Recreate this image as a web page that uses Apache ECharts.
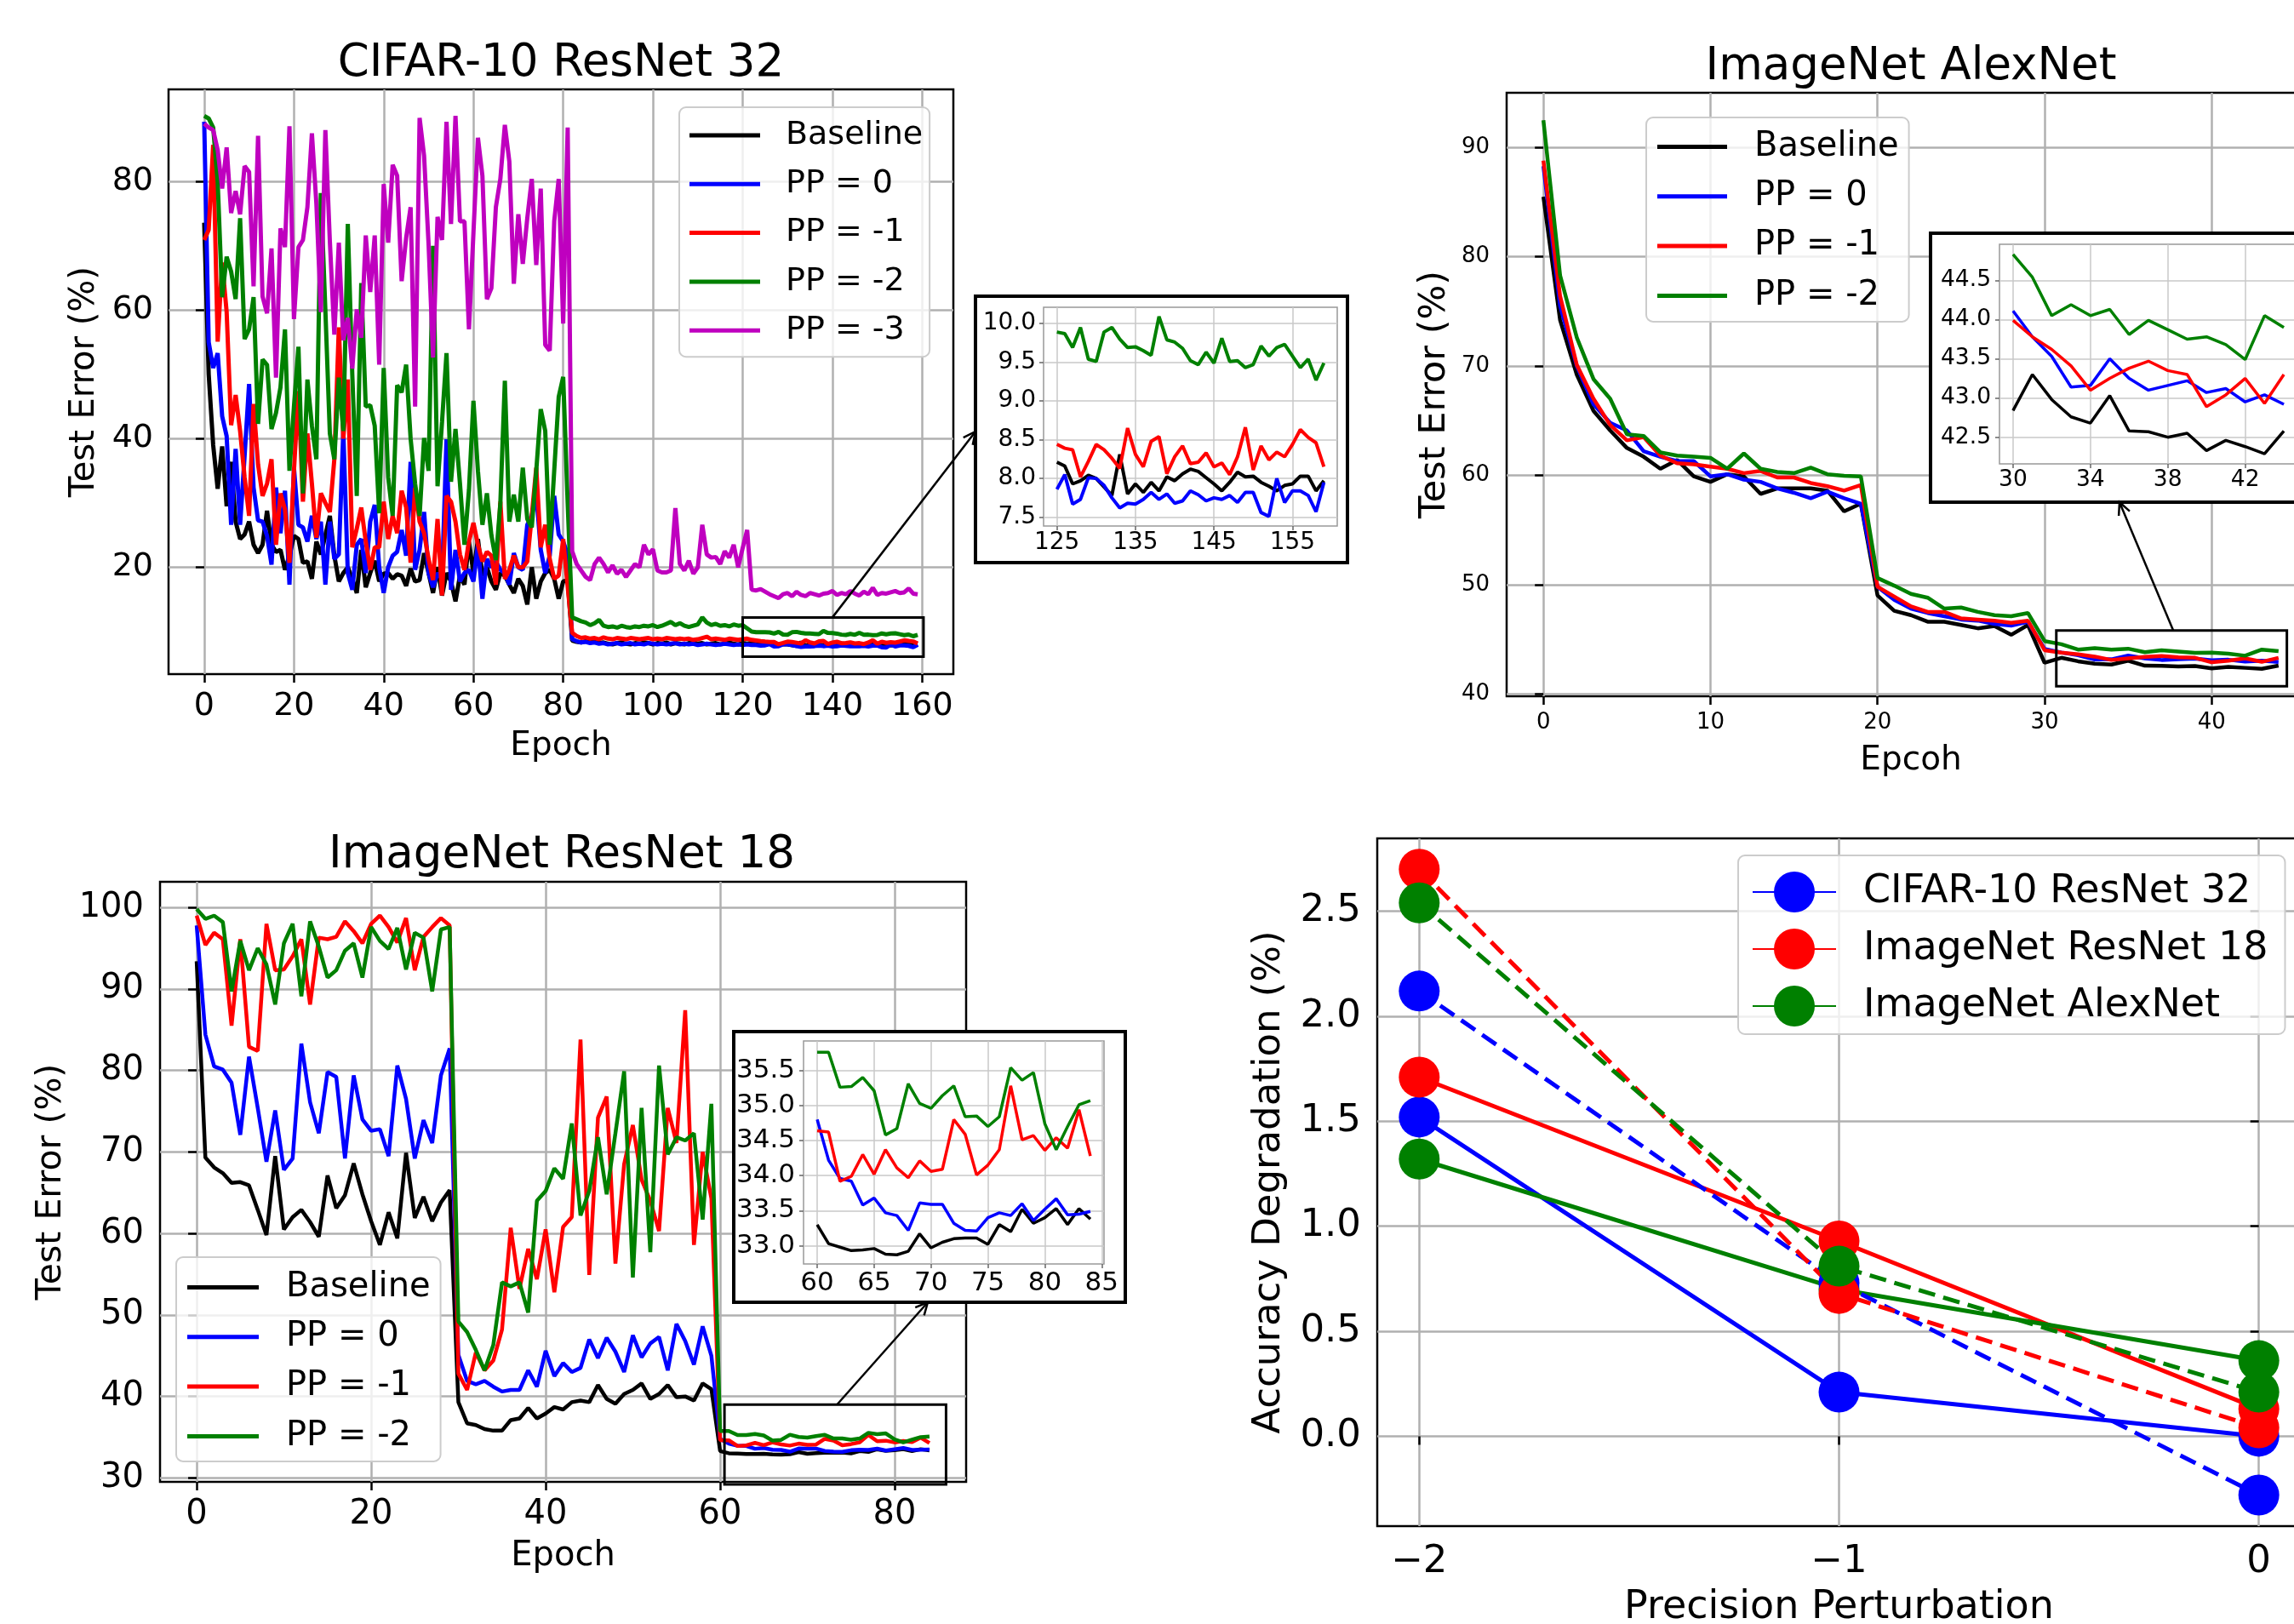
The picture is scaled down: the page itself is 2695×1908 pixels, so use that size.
<!DOCTYPE html>
<html><head><meta charset="utf-8">
<script src="https://cdn.jsdelivr.net/npm/echarts@6/dist/echarts.min.js"></script>
<style>html,body{margin:0;padding:0;background:#fff;overflow:hidden}#c{width:2800px;height:1908px}</style>
</head><body><div id="c"></div>
<script>
// ---------------- DATA ----------------
// CIFAR-10 ResNet 32, epochs 0..159 (test error %)
const cifarBaseline = [
73.6,50,39,32.2,38.8,29.5,36.4,27.1,24.4,25.1,
27.1,23.5,22.2,23.5,28.8,23.5,22.4,22.7,19.6,21.8,
24.9,24.4,20.7,20.9,18.2,24.0,22,25,28.0,21.8,
17.8,19.1,20,18.2,16.0,22.7,16.9,19.1,21,17.8,
19.0,19.1,18.2,18.9,18.7,17.1,19.8,17.8,18.0,22.2,
19.1,16.0,20.0,15.6,19.1,17.8,14.7,18.7,17.3,24.0,
19.1,24.4,18.7,20.0,17.8,16.5,19.1,18.7,17.3,16.0,
18.2,17.1,14.2,20.0,15.1,17.8,19.1,19.6,18.2,15.1,
17.8,18.0,8.6,8.4,8.3,8.5,8.3,8.4,8.2,8.3,
8.1,8.0,8.2,8.3,8.1,8.0,8.2,8.1,8.3,8.2,
8.0,8.2,8.1,8.3,8.0,8.2,8.1,8.0,8.2,8.3,
8.1,8.2,8.0,8.1,8.2,8.0,8.1,8.3,8.1,8.0,
8.2,8.1,8.2,8.2,8.1,8.21,8.16,7.93,7.97,8.04,
8.00,7.89,7.78,8.31,7.80,7.93,7.82,7.95,7.84,8.02,
7.97,8.06,8.12,8.09,8.01,7.93,7.84,7.95,8.08,8.02,
8.03,7.95,7.90,7.84,7.91,7.93,8.03,8.03,7.84,7.97];
const cifarPP0 = [
89.3,55,51,53.3,43.5,40.4,26.6,38.4,26.6,37.3,
48.5,32.4,27.3,27.1,24.9,20.4,32.4,25.3,31.9,17.3,
35.5,26.6,26.2,24.0,28.0,24.4,27.1,17.3,27.1,21.3,
22,41.2,19.1,16.5,23.5,24.4,19.1,27.1,29.7,20.0,
16.0,20.0,21.8,22.4,25.8,21.8,36.4,19.6,22.7,28.6,
19.1,16.9,19.1,18.2,39.9,16.5,22.7,17.8,19.1,19.6,
17.8,23.5,15.1,21.3,20.0,20.9,19.6,19.1,17.3,22.2,
20.0,19.6,26.6,28.0,31.5,22.7,19.1,21.8,31.1,25.1,
24.0,22.0,8.8,8.5,8.3,8.4,8.2,8.3,8.1,8.2,
8.0,8.1,8.2,8.0,8.1,8.2,8.0,8.1,8.0,8.2,
8.1,8.0,8.1,8.0,8.1,8.2,8.0,8.1,8.0,8.1,
7.9,8.0,8.1,8.0,7.9,8.0,8.1,8.0,7.9,8.0,
7.9,8.0,7.9,7.9,7.8,7.86,8.05,7.67,7.73,8.01,
8.00,7.91,7.75,7.62,7.68,7.67,7.73,7.82,7.73,7.80,
7.68,7.71,7.84,7.79,7.71,7.75,7.73,7.78,7.69,7.82,
7.82,7.56,7.51,8.00,7.69,7.84,7.84,7.78,7.57,7.95];
const cifarPPm1 = [
70.9,72.5,85.7,55.1,67.4,59.7,42.1,46.8,41.2,34,
28.0,45.4,36,31.1,33,36.8,23.5,31.5,29,20.7,
35,47.4,30.2,40.8,33,24.6,31.5,30,28.6,36.8,
57.3,40,49.2,23.1,26,29.3,24,19.6,23.1,23.1,
30.2,24.4,28.0,25.3,31.9,29.3,20.7,32.4,27.1,25.3,
21.3,18.0,27.5,15.6,31.1,30.2,27.1,22,19.6,24,
26.9,23.5,20.9,22.4,21.8,17.3,30.2,18.2,19.6,21.8,
20.0,20.0,20.9,28.0,35.5,23.1,26.6,21.3,18.2,18.7,
24.4,17,9.8,9.3,9.0,9.1,8.9,9.0,8.8,9.1,
8.9,8.8,9.0,8.9,8.8,9.0,8.9,8.8,8.9,9.0,
8.8,8.9,8.8,9.0,8.9,8.8,8.9,8.8,8.9,8.7,
8.8,9.0,9.2,8.8,8.9,8.8,8.7,8.9,8.8,8.7,
8.8,8.9,8.7,8.6,8.5,8.44,8.39,8.37,8.02,8.22,
8.44,8.37,8.26,8.13,8.65,8.31,8.15,8.48,8.54,8.06,
8.28,8.42,8.19,8.21,8.33,8.15,8.20,8.05,8.28,8.66,
8.11,8.42,8.24,8.34,8.28,8.44,8.63,8.53,8.46,8.15];
const cifarPPm2 = [
90.2,89.8,88.4,80,62,68.3,66,61.7,74.3,55.5,
57,62,42.3,52.3,51.5,41.5,44,48,57,35,
45,54.3,31.5,49.2,42,36.8,78.2,60,40.8,36.8,
49.5,41.2,73.4,50,31.1,64.2,45,45.2,42,28.4,
51,34,28,48.3,47.2,51.5,40,33,28,40.1,
35,70,32.6,42.6,53.3,33.3,41.5,33,23.5,32,
45.9,35,26.6,31.5,25,21.1,30,49,27.1,31.3,
27.1,35.5,27.5,26.2,35,44.6,41.2,23.5,35,46.5,
49.6,30,12.2,11.9,11.6,11.4,11.0,11.3,11.8,10.9,
10.7,10.8,10.6,10.9,10.7,10.6,10.8,10.7,10.9,10.8,
11.0,10.7,10.9,11.2,11.5,11.0,11.3,10.9,10.7,10.9,
11.1,12.2,11.4,11.0,11.2,10.9,11.0,10.8,11.1,10.9,
11.0,10.5,10.0,9.9,9.9,9.89,9.87,9.69,9.95,9.54,
9.51,9.89,9.95,9.80,9.69,9.70,9.65,9.59,10.09,9.79,
9.76,9.68,9.52,9.47,9.63,9.49,9.81,9.51,9.52,9.43,
9.47,9.71,9.58,9.69,9.73,9.58,9.43,9.54,9.27,9.49];
const cifarPPm3 = [
89.0,88.4,88,84.9,78.9,85.3,75.1,78.5,74.9,82.4,
81.5,63.7,87.1,62.1,59.5,69.6,49.5,72.7,69.8,88.6,
58.6,69.8,70.9,76.0,87.5,76.5,59.7,88.0,70.7,56.2,
70.5,55.3,58.8,50.9,60.1,55.7,71.6,62.8,71.6,51.5,
79.6,70.5,82.6,80.9,64.5,71.2,76.0,45,89.9,84.0,
70.3,52.6,74.5,70.9,89.3,73.4,90.2,73.8,73.8,57.0,
72,86.8,80.9,61.7,63.4,76.0,80.4,88.8,83.1,64.1,
74.9,67.2,74.3,80.4,67.0,78.9,54.6,53.7,73.8,80.4,
57.9,88.4,22.5,20.5,19.5,18.5,18.0,20.5,21.5,20.5,
19.2,20.3,19.0,19.6,18.5,19.5,20.5,20.0,23.5,22.0,
22.8,19.5,19.2,19.2,19.5,29.2,20.5,19.5,21.0,19.0,
20.0,26.6,22.0,21.5,21.6,20.5,22.5,21.5,23.5,20.0,
23.0,25.8,16.5,16.4,16.6,16.2,15.8,15.5,15.2,15.8,
16.0,15.5,16.2,15.7,15.5,16.0,15.8,15.6,15.9,16.0,
16.3,15.7,16.0,15.8,16.3,15.9,15.6,16.2,15.8,16.8,
15.7,16.0,15.9,16.1,16.3,16.0,16.1,16.7,15.9,15.8];

// ImageNet AlexNet, epochs 0..44
const alexBaseline = [85.5,74.2,69.2,65.9,64.1,62.5,61.7,60.6,61.4,59.9,
59.4,60.1,59.9,58.3,58.8,58.8,58.8,58.6,56.7,57.4,
49.0,47.6,47.2,46.6,46.6,46.3,46.0,46.2,45.4,46.3,
42.84,43.30,42.98,42.76,42.68,43.03,42.58,42.57,42.50,42.55,
42.33,42.46,42.38,42.29,42.58];
const alexPP0 = [88.3,75.5,70,66.5,64.8,64.1,62.2,61.7,61.3,61.3,
59.9,60.1,59.6,59.4,58.8,58.4,57.9,58.5,57.9,57.4,
49.8,48.6,47.8,47.4,47.1,46.8,46.7,46.4,46.25,46.6,
44.11,43.78,43.53,43.14,43.16,43.50,43.25,43.10,43.16,43.22,
43.07,43.12,42.95,43.04,42.92];
const alexPPm1 = [88.8,76.4,70.1,67.0,64.6,63.2,63.5,61.8,61.1,61.0,
60.8,60.6,60.2,60.4,59.8,59.8,59.3,59.0,58.6,59.1,
49.8,48.9,48.0,47.5,47.5,46.9,46.8,46.7,46.5,46.7,
43.99,43.78,43.62,43.41,43.10,43.25,43.38,43.47,43.35,43.30,
42.89,43.04,43.25,42.93,43.30];
const alexPPm2 = [92.5,78.3,72.6,68.8,67.0,63.75,63.6,62.1,61.8,61.7,
61.6,60.6,62.0,60.6,60.3,60.2,60.7,60.1,59.95,59.9,
50.6,49.9,49.15,48.8,47.8,47.9,47.5,47.2,47.1,47.4,
44.83,44.54,44.05,44.19,44.05,44.13,43.81,43.99,43.87,43.75,
43.78,43.68,43.49,44.05,43.90];

// ImageNet ResNet 18, epochs 0..84
const r18Baseline = [93.4,69.3,68.1,67.4,66.2,66.3,65.9,62.9,59.8,69.5,
60.5,62.0,62.9,61.4,59.6,67.1,63.1,64.7,68.6,64.8,
61.5,58.6,62.6,59.4,69.9,61.9,64.5,61.5,63.8,65.3,
39.3,36.7,36.5,36.0,35.8,35.8,37.1,37.3,38.6,37.3,
37.9,38.7,38.4,39.3,39.5,39.3,41.4,39.7,39.1,40.3,
40.8,41.6,39.7,40.3,41.4,39.9,40.0,39.5,41.6,40.9,
33.30,33.03,32.98,32.93,32.94,32.96,32.88,32.87,32.92,33.17,
32.97,33.05,33.10,33.11,33.11,33.02,33.30,33.20,33.52,33.32,
33.40,33.53,33.30,33.53,33.38];
const r18PP0 = [97.8,84.4,80.5,80.1,78.5,72.1,81.7,75.4,68.8,75.1,
67.8,69.2,83.3,76.1,72.3,79.8,79.2,69.2,79.4,74.0,
72.6,72.8,69.5,80.6,76.5,69.2,73.9,71.1,79.4,82.7,
45.1,41.9,41.5,41.9,41.2,40.6,40.8,40.8,43.2,41.2,
45.6,42.5,44.1,43.0,43.5,47.0,44.7,47.2,45.5,43.0,
47.5,44.8,46.5,47.3,43.2,48.9,46.8,43.9,48.6,45.0,
34.80,34.22,33.96,33.92,33.58,33.68,33.47,33.43,33.22,33.61,
33.59,33.59,33.32,33.22,33.21,33.40,33.47,33.43,33.60,33.36,
33.52,33.67,33.44,33.45,33.49];
const r18PPm1 = [99.0,95.4,96.9,96.1,85.5,96.1,82.9,82.4,98.0,92.3,
92.4,94.0,96.1,88.1,96.3,96.1,96.4,98.3,97.1,95.6,
98.0,99.0,97.6,95.7,98.7,92.3,96.4,97.6,98.7,97.8,
42.8,40.8,45.4,43.2,44.4,48.2,60.7,53.2,58.1,54.4,
60.5,52.8,60.8,62.0,83.8,54.9,74.2,76.8,56.3,68.5,
73.3,66.6,64.0,60.3,75.4,71.1,87.4,58.6,70.0,64.3,
34.64,34.62,33.92,33.99,34.30,34.02,34.37,34.11,33.97,34.21,
34.06,34.09,34.80,34.59,34.01,34.15,34.37,35.28,34.51,34.57,
34.36,34.54,34.39,34.94,34.28];
const r18PPm2 = [99.8,98.6,99.0,98.2,89.7,95.9,92.3,95.0,93.0,88.1,
95.6,98.0,89.1,98.3,95.2,91.4,92.3,94.7,95.6,91.4,
97.6,95.9,94.9,97.5,92.4,96.9,96.3,89.7,97.3,97.6,
49.2,47.9,45.7,43.2,46.3,54.0,53.5,54.0,50.3,64.0,
65.2,68.0,66.7,73.5,62.2,65.2,71.8,64.8,72.3,79.9,
54.6,75.4,57.7,80.6,69.7,71.8,71.4,72.3,61.7,75.9,
35.76,35.76,35.26,35.27,35.40,35.21,34.58,34.67,35.31,35.03,
34.96,35.14,35.28,34.84,34.85,34.70,34.84,35.54,35.36,35.47,
34.74,34.37,34.70,35.01,35.07];

// Accuracy degradation vs precision perturbation
const ppX = [-2, -1, 0];
const degCifarSolid = [1.52, 0.21, 0.00];
const degCifarDashed = [2.12, 0.73, -0.28];
const degR18Solid = [1.71, 0.93, 0.13];
const degR18Dashed = [2.70, 0.68, 0.04];
const degAlexSolid = [1.32, 0.70, 0.36];
const degAlexDashed = [2.54, 0.81, 0.21];

// Tick values
const x0Ticks = [0,20,40,60,80,100,120,140,160], y0Ticks = [20,40,60,80];
const x1Ticks = [125,135,145,155], y1Ticks = [7.5,8,8.5,9,9.5,10];
const x2Ticks = [0,10,20,30,40], y2Ticks = [40,50,60,70,80,90];
const x3Ticks = [30,34,38,42], y3Ticks = [42.5,43,43.5,44,44.5];
const x4Ticks = [0,20,40,60,80], y4Ticks = [30,40,50,60,70,80,90,100];
const x5Ticks = [60,65,70,75,80,85], y5Ticks = [33,33.5,34,34.5,35,35.5];
const x6Ticks = [-2,-1,0], y6Ticks = [0,0.5,1,1.5,2,2.5];

const ppNames = ['Baseline','PP = 0','PP = -1','PP = -2','PP = -3'];
const degNames = ['CIFAR-10 ResNet 32','ImageNet ResNet 18','ImageNet AlexNet'];

// ---------------- STYLE / LAYOUT ----------------
const FONT = '"DejaVu Sans", sans-serif';
const COL = ['#000000','#0000ff','#ff0000','#008000','#bf00bf'];
const GRIDC = '#b0b0b0';

const grids = [
  {left:198, top:105, width:922, height:687},   // 0 CIFAR main
  {left:1226, top:361, width:345, height:257, inset:true},  // 1 CIFAR inset
  {left:1770, top:109, width:950, height:709},  // 2 Alex main
  {left:2349, top:287, width:350, height:258, inset:true},  // 3 Alex inset
  {left:188, top:1036, width:947, height:705},  // 4 R18 main
  {left:944, top:1223, width:353, height:262, inset:true},  // 5 R18 inset
  {left:1618, top:985, width:1085, height:808}  // 6 degradation
];

const pairs = (arr, a, b) => { const o=[]; for (let i=a;i<=b && i<arr.length;i++) o.push([i, arr[i]]); return o; };
const fmt1 = v => v.toFixed(1);
const fmtMinus = v => (v < 0 ? '\u2212' + (-v) : String(v));

function axis(dim, g, min, max, ticks, o) {
  const inset = grids[g].inset;
  const a = {
    type:'value', gridIndex:g, min, max, z: inset ? 10 : 0,
    position: dim === 'x' ? 'bottom' : 'left',
    axisLine:{show:false},
    axisTick:{show:true, customValues:ticks, length: inset ? 5 : 10,
      lineStyle:{color: inset ? '#666' : '#000', width: inset ? 1.5 : 2.5}},
    axisLabel:{show:true, customValues:ticks, fontFamily:FONT, fontSize:o.fs, color:'#000',
      margin:o.margin, formatter:o.fmt || (v => String(v))},
    splitLine:{show:true, lineStyle:{color: inset ? '#c8c8c8' : GRIDC, width: inset ? 1.5 : 2.5}}
  };
  if (o.name) {
    a.name = o.name; a.nameLocation = 'middle'; a.nameGap = o.gap;
    a.nameTextStyle = {fontFamily:FONT, fontSize:o.nfs, color:'#000', verticalAlign:'middle'};
  }
  return a;
}

const xAxes = [
  axis('x',0,-7.95,166.95,x0Ticks,{fs:38,margin:19,name:'Epoch',gap:85,nfs:39}),
  axis('x',1,123.3,160.7,x1Ticks,{fs:28,margin:6}),
  axis('x',2,-2.2,46.2,x2Ticks,{fs:26,margin:18,name:'Epcoh',gap:76,nfs:39}),
  axis('x',3,29.3,44.7,x3Ticks,{fs:26.5,margin:6}),
  axis('x',4,-4.2,88.2,x4Ticks,{fs:40,margin:19,name:'Epoch',gap:88,nfs:40}),
  axis('x',5,58.8,85.2,x5Ticks,{fs:31,margin:7}),
  axis('x',6,-2.1,0.1,x6Ticks,{fs:45,margin:20,fmt:fmtMinus,name:'Precision Perturbation',gap:96,nfs:46})
];
const yAxes = [
  axis('y',0,3.38,94.33,y0Ticks,{fs:38,margin:18,name:'Test Error (%)',gap:98,nfs:40}),
  axis('y',1,7.386,10.21,y1Ticks,{fs:28,margin:9,fmt:fmt1}),
  axis('y',2,39.78,95.01,y2Ticks,{fs:26,margin:20,name:'Test Error (%)',gap:84,nfs:43}),
  axis('y',3,42.16,44.96,y3Ticks,{fs:26.5,margin:10,fmt:fmt1}),
  axis('y',4,29.52,103.15,y4Ticks,{fs:40,margin:19,name:'Test Error (%)',gap:128,nfs:41}),
  axis('y',5,32.74,35.92,y5Ticks,{fs:31,margin:10,fmt:fmt1}),
  axis('y',6,-0.428,2.847,y6Ticks,{fs:45,margin:19,fmt:fmt1,name:'Accuracy Degradation (%)',gap:127,nfs:45})
];

function ln(name, data, color, g, width) {
  const inset = grids[g].inset;
  return {type:'line', name, data, xAxisIndex:g, yAxisIndex:g, symbol:'none', showSymbol:false,
    color, lineStyle:{color, width}, itemStyle:{color}, z: inset ? 12 : 2, silent:true,
    clip:true, animation:false, emphasis:{disabled:true}};
}
function deg(name, vals, color, dashed) {
  return {type:'line', name, data: ppX.map((x,i)=>[x, vals[i]]), xAxisIndex:6, yAxisIndex:6,
    symbol:'circle', symbolSize:48, showSymbol:true, color,
    lineStyle:{color, width:5, type: dashed ? [20,10] : 'solid'}, itemStyle:{color},
    z:2, silent:true, animation:false, emphasis:{disabled:true}};
}

const cifar = [cifarBaseline, cifarPP0, cifarPPm1, cifarPPm2, cifarPPm3];
const alex = [alexBaseline, alexPP0, alexPPm1, alexPPm2];
const r18 = [r18Baseline, r18PP0, r18PPm1, r18PPm2];

const series = [];
cifar.forEach((a,i)=>series.push(ln(ppNames[i], pairs(a,0,159), COL[i], 0, 5)));
cifar.slice(0,4).forEach((a,i)=>series.push(ln(ppNames[i], pairs(a,125,159), COL[i], 1, 4)));
alex.forEach((a,i)=>series.push(ln(ppNames[i], pairs(a,0,44), COL[i], 2, 4.5)));
alex.forEach((a,i)=>series.push(ln(ppNames[i], pairs(a,30,44), COL[i], 3, 3.5)));
r18.forEach((a,i)=>series.push(ln(ppNames[i], pairs(a,0,84), COL[i], 4, 4.5)));
r18.forEach((a,i)=>series.push(ln(ppNames[i], pairs(a,60,84), COL[i], 5, 3.5)));
series.push(deg(degNames[0], degCifarSolid, COL[1], false));
series.push(deg(degNames[1], degR18Solid, COL[2], false));
series.push(deg(degNames[2], degAlexSolid, COL[3], false));
series.push(deg(degNames[0]+' ', degCifarDashed, COL[1], true));
series.push(deg(degNames[1]+' ', degR18Dashed, COL[2], true));
series.push(deg(degNames[2]+' ', degAlexDashed, COL[3], true));

function legend(left, top, names, fs, lh, gap, iw, pad, txtPad, icon) {
  const l = {orient:'vertical', left, top, data:names, selectedMode:false,
    itemWidth:iw, itemHeight: icon ? 5 : 60, itemGap:gap,
    padding:pad, backgroundColor:'rgba(255,255,255,0.8)',
    borderColor:'#cccccc', borderWidth:2, borderRadius:8, z:6,
    textStyle:{fontFamily:FONT, fontSize:fs, color:'#000', lineHeight:lh, padding:[0,0,0,txtPad]}};
  if (icon) l.icon = 'rect';
  return l;
}

const option = {
  animation:false,
  backgroundColor:'#ffffff',
  grid: grids.map(g => ({left:g.left, top:g.top, width:g.width, height:g.height, show:true,
      borderColor: g.inset ? '#999999' : '#000000', borderWidth: g.inset ? 1.5 : 2.5,
      backgroundColor:'transparent', z: g.inset ? 10 : 0, containLabel:false,
      outerBoundsMode:'none'})),
  xAxis: xAxes, yAxis: yAxes,
  legend: [
    legend(798,126,ppNames,38,40,17.3,83,[13,8,11,12],25,true),
    legend(1934,138,ppNames.slice(0,4),40,41,17.3,82,[14,12,10,13],27,true),
    legend(207,1477,ppNames.slice(0,4),40,41,17.3,84,[15,12,9,13],27,true),
    legend(2042,1005,degNames,46,48,19,98,[19,20,9,16],27,false)
  ],
  series
};

const chart = echarts.init(document.getElementById('c'), null, {renderer:'canvas'});
chart.setOption(option);

// ---------------- DECORATIONS (insets, zoom boxes, arrows, titles) ----------------
const insetBoxes = [[1146,348,437,313],[2268,274,460,316],[862,1212,460,318]];
const zoomBoxes = [
  {g:0, x:[120,160.3], y:[6.1,12.2], anchor:[140,12.2], to:[1146,507]},
  {g:2, x:[30.7,44.5], y:[40.7,45.8], anchor:[37.7,45.8], to:[2490,590]},
  {g:4, x:[60.5,85.9], y:[29.2,39.0], anchor:[73.4,39.0], to:[1090,1530]}
];
const titles = [
  ['CIFAR-10 ResNet 32', 659, 75, 53],
  ['ImageNet AlexNet', 2245, 79, 53],
  ['ImageNet ResNet 18', 660, 1005, 53]
];
const els = [];
insetBoxes.forEach(b => els.push({type:'rect', shape:{x:b[0], y:b[1], width:b[2], height:b[3]},
  style:{fill:'#ffffff', stroke:'#000000', lineWidth:4}, z:5, silent:true}));
zoomBoxes.forEach(zb => {
  const p0 = chart.convertToPixel({gridIndex:zb.g}, [zb.x[0], zb.y[1]]);
  const p1 = chart.convertToPixel({gridIndex:zb.g}, [zb.x[1], zb.y[0]]);
  els.push({type:'rect', shape:{x:p0[0], y:p0[1], width:p1[0]-p0[0], height:p1[1]-p0[1]},
    style:{fill:null, stroke:'#000000', lineWidth:3}, z:6, silent:true});
  const a = chart.convertToPixel({gridIndex:zb.g}, zb.anchor);
  const [x2,y2] = zb.to;
  const ang = Math.atan2(y2-a[1], x2-a[0]);
  const L = 16, W = 0.45;
  els.push({type:'line', shape:{x1:a[0], y1:a[1], x2, y2}, style:{stroke:'#000', lineWidth:2.5}, z:6, silent:true});
  els.push({type:'polyline', shape:{points:[[x2-L*Math.cos(ang-W), y2-L*Math.sin(ang-W)],[x2,y2],[x2-L*Math.cos(ang+W), y2-L*Math.sin(ang+W)]]},
    style:{stroke:'#000', fill:null, lineWidth:2.5}, z:6, silent:true});
});
titles.forEach(t => els.push({type:'text', x:t[1], y:t[2], z:10, silent:true,
  style:{text:t[0], fill:'#000', font: t[3] + 'px "DejaVu Sans"', fontSize:t[3], fontFamily:'DejaVu Sans',
    align:'center', verticalAlign:'middle', textAlign:'center', textVerticalAlign:'middle'}}));
chart.setOption({graphic:{elements:els}});
</script></body></html>
